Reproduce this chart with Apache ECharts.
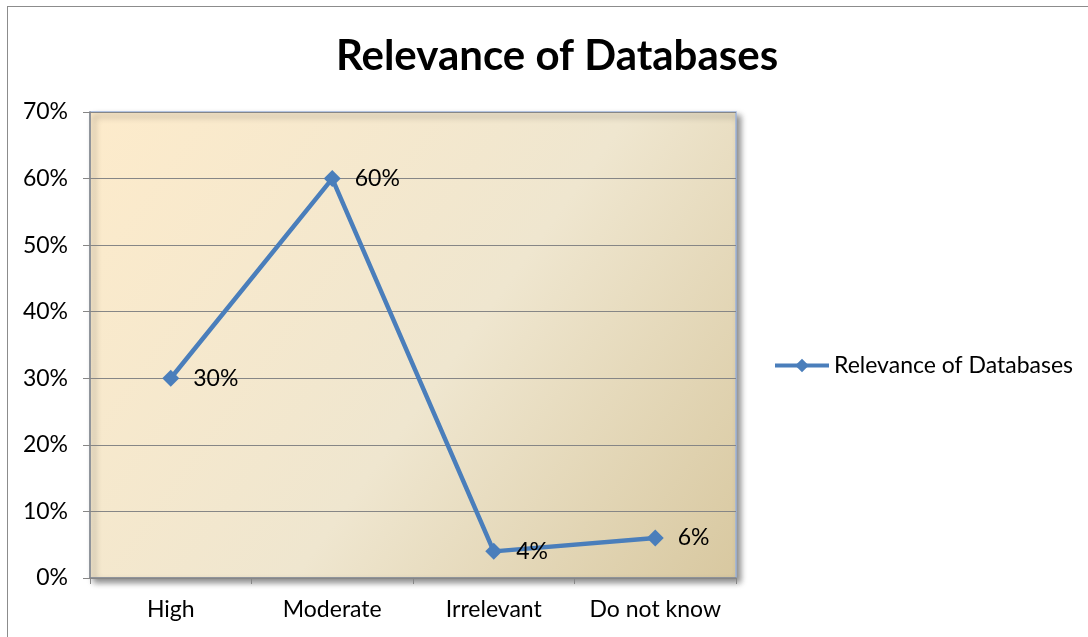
<!DOCTYPE html>
<html>
<head>
<meta charset="utf-8">
<title>Relevance of Databases</title>
<script src="https://cdn.jsdelivr.net/npm/echarts@6/dist/echarts.min.js"></script>
<style>
    html, body { margin: 0; padding: 0; background: #fff; }
    #frame {
        position: absolute; left: 7px; top: 6px;
        width: 1100px; height: 660px;
        border: 1px solid #8c8c8c;
        box-sizing: border-box;
    }
    #container { position: absolute; left: 0; top: 0; width: 1088px; height: 637px; }
</style>
</head>
<body>
<div id="frame"></div>
<div id="container"></div>
<script type="text/javascript">
    // data
    var categories = ['High', 'Moderate', 'Irrelevant', 'Do not know'];
    var relevance = [30, 60, 4, 6];
    var seriesName = 'Relevance of Databases';

    var fontFam = 'Lato, "Open Sans", sans-serif';
    var myChart = echarts.init(document.getElementById('container'));

    var option = {
        animation: false,
        textStyle: { fontFamily: fontFam },
        title: {
            text: 'Relevance of Databases',
            left: 552, top: 30, textAlign: 'center',
            textStyle: { fontSize: 42, fontWeight: 'bold', color: '#000', fontFamily: fontFam }
        },
        legend: {
            data: [seriesName],
            left: 768, top: 349,
            itemWidth: 54, itemHeight: 17,
            lineStyle: { width: 4 },
            textStyle: { fontSize: 23, color: '#000', fontFamily: fontFam }
        },
        grid: {
            left: 90, top: 112, width: 646, height: 466,
            show: true,
            borderColor: '#9db4dc', borderWidth: 1.5,
            backgroundColor: new echarts.graphic.LinearGradient(0, 0, 1, 1, [
                { offset: 0, color: '#fdebcb' },
                { offset: 0.55, color: '#efe6cf' },
                { offset: 1, color: '#d8c8a0' }
            ]),
            shadowColor: 'rgba(0,0,0,0.45)', shadowBlur: 6,
            shadowOffsetX: 4, shadowOffsetY: 4
        },
        xAxis: {
            type: 'category',
            data: categories,
            boundaryGap: true,
            axisLine: { lineStyle: { color: '#868686', width: 1.5 } },
            axisTick: { show: true, interval: 0, length: 6, lineStyle: { color: '#868686' } },
            axisLabel: { interval: 0, fontSize: 23, color: '#000', margin: 20, fontFamily: fontFam }
        },
        yAxis: {
            type: 'value',
            min: 0, max: 70, interval: 10,
            axisLine: { show: true, lineStyle: { color: '#868686', width: 1.5 } },
            axisTick: { show: true, length: 7, lineStyle: { color: '#868686' } },
            axisLabel: { fontSize: 23, color: '#000', margin: 22, formatter: '{value}%', fontFamily: fontFam },
            splitLine: { lineStyle: { color: '#868686', width: 1.2 } }
        },
        series: [{
            name: seriesName,
            type: 'line',
            data: relevance,
            symbol: 'diamond',
            symbolSize: 17,
            lineStyle: { color: '#4a7ebb', width: 4.5 },
            itemStyle: { color: '#4a7ebb' },
            label: {
                show: true, position: 'right', distance: 14,
                formatter: '{c}%', fontSize: 23, color: '#000', fontFamily: fontFam
            }
        }]
    };

    myChart.setOption(option);
</script>
</body>
</html>
